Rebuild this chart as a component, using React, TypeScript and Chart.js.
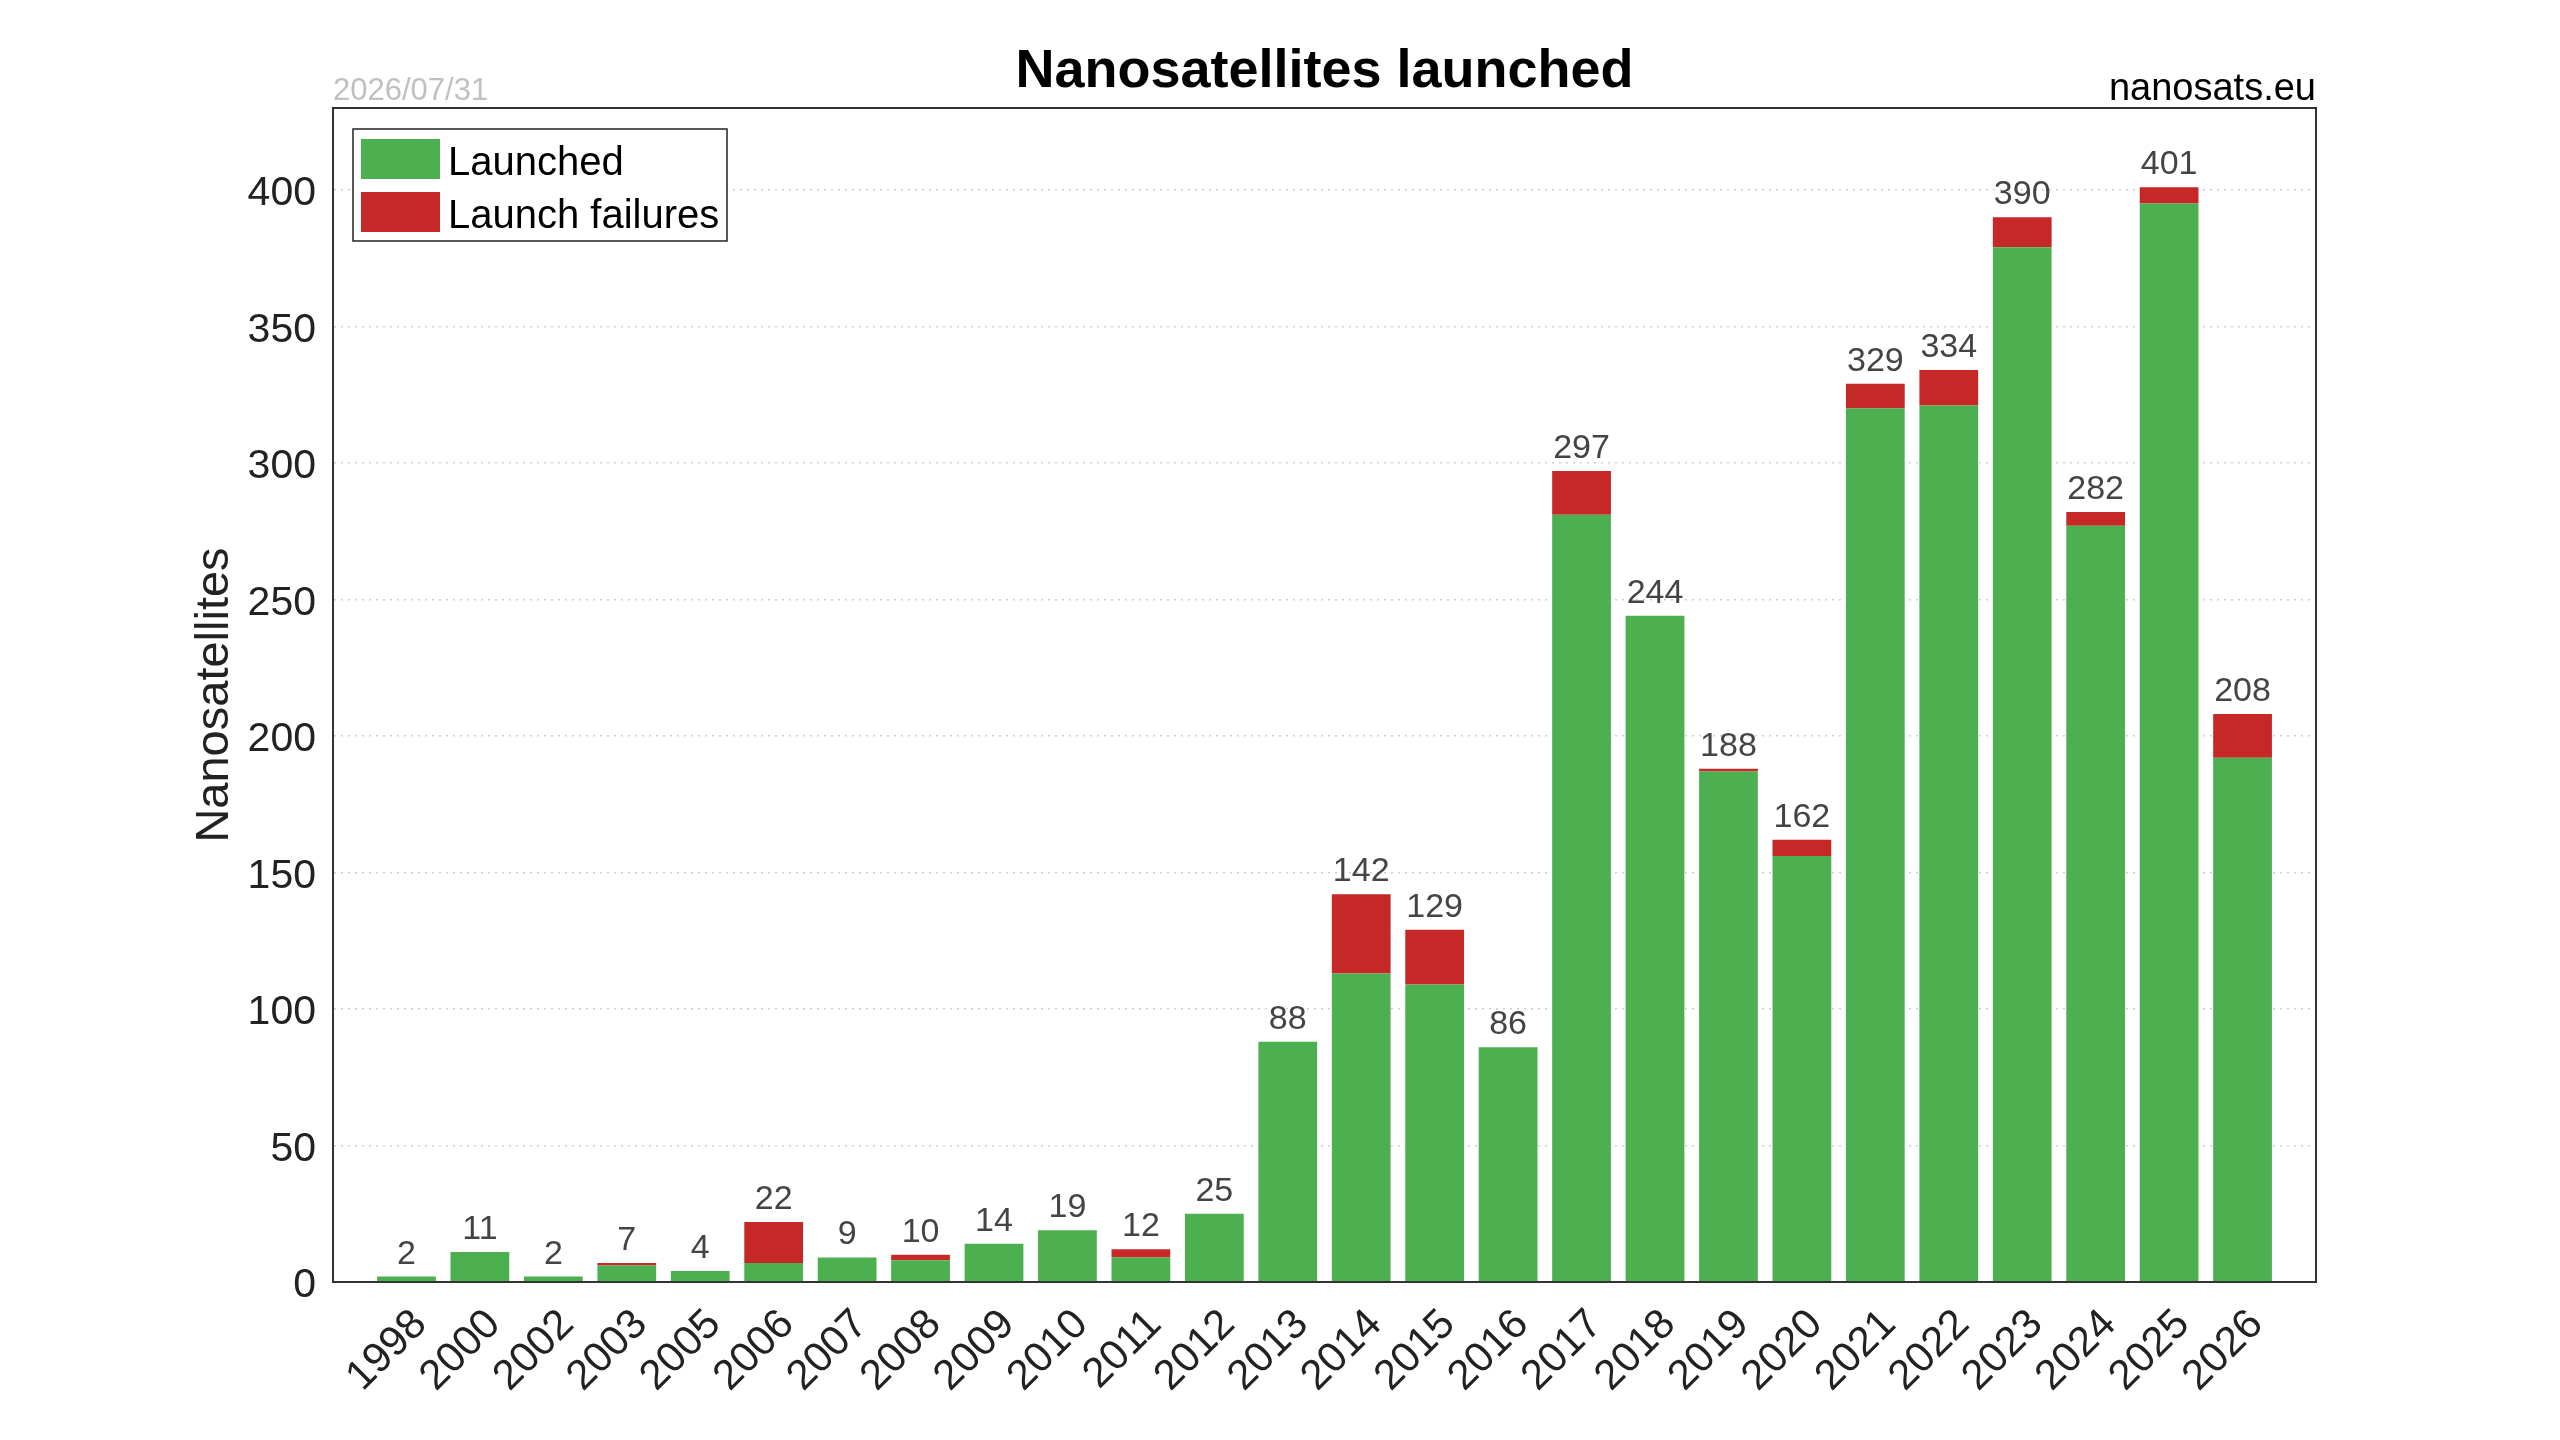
import React, { useEffect, useRef } from "react";
import { Chart, registerables } from "chart.js";

Chart.register(...registerables);

const years = ["1998", "2000", "2002", "2003", "2005", "2006", "2007", "2008", "2009", "2010", "2011", "2012", "2013", "2014", "2015", "2016", "2017", "2018", "2019", "2020", "2021", "2022", "2023", "2024", "2025", "2026"];
const launched = [2, 11, 2, 6, 4, 7, 9, 8, 14, 19, 9, 25, 88, 113, 109, 86, 281, 244, 187, 156, 320, 321, 379, 277, 395, 192];
const failures = [0, 0, 0, 1, 0, 15, 0, 2, 0, 0, 3, 0, 0, 29, 20, 0, 16, 0, 1, 6, 9, 13, 11, 5, 6, 16];
const yTicks = [0, 50, 100, 150, 200, 250, 300, 350, 400];

const FONT = '"Liberation Sans", Arial, Helvetica, sans-serif';
const GREEN = "#4CAF50";
const RED = "#C62828";

const decorPlugin = {
  id: "decor",
  afterDraw(chart: any) {
    const { ctx, chartArea: a, scales } = chart;
    ctx.save();
    // frame
    ctx.strokeStyle = "#333";
    ctx.lineWidth = 2;
    ctx.setLineDash([]);
    ctx.strokeRect(a.left, a.top, a.right - a.left, a.bottom - a.top);

    // totals above bars
    ctx.font = `34px ${FONT}`;
    ctx.fillStyle = "#444";
    ctx.textAlign = "center";
    ctx.textBaseline = "alphabetic";
    years.forEach((_, i) => {
      const total = launched[i] + failures[i];
      const x = scales.x.getPixelForValue(i);
      const y = scales.y.getPixelForValue(total);
      ctx.fillText(String(total), x, y - 13);
    });

    // title
    ctx.font = `bold 54px ${FONT}`;
    ctx.fillStyle = "#000";
    ctx.textAlign = "center";
    ctx.fillText("Nanosatellites launched", (a.left + a.right) / 2, 87);

    // date
    ctx.font = `31px ${FONT}`;
    ctx.fillStyle = "#c0c0c0";
    ctx.textAlign = "left";
    ctx.fillText("2026/07/31", a.left, 100);

    // source
    ctx.font = `38px ${FONT}`;
    ctx.fillStyle = "#000";
    ctx.textAlign = "right";
    ctx.fillText("nanosats.eu", a.right, 100);

    // y title
    ctx.save();
    ctx.translate(228, (a.top + a.bottom) / 2);
    ctx.rotate(-Math.PI / 2);
    ctx.font = `47px ${FONT}`;
    ctx.fillStyle = "#222";
    ctx.textAlign = "center";
    ctx.textBaseline = "alphabetic";
    ctx.fillText("Nanosatellites", 0, 0);
    ctx.restore();

    // legend
    const lx = a.left + 20;
    const ly = a.top + 21;
    const lw = 374;
    const lh = 112;
    ctx.fillStyle = "#fff";
    ctx.fillRect(lx, ly, lw, lh);
    ctx.strokeStyle = "#222";
    ctx.lineWidth = 1.5;
    ctx.strokeRect(lx, ly, lw, lh);
    const items = [
      { label: "Launched", color: GREEN },
      { label: "Launch failures", color: RED },
    ];
    ctx.font = `40px ${FONT}`;
    ctx.textAlign = "left";
    ctx.textBaseline = "alphabetic";
    items.forEach((it, k) => {
      const top = ly + 10 + k * 53;
      ctx.fillStyle = it.color;
      ctx.fillRect(lx + 8, top, 79, 40);
      ctx.fillStyle = "#000";
      ctx.fillText(it.label, lx + 95, top + 36);
    });
    ctx.restore();
  },
};

export default function App() {
  const ref = useRef<HTMLCanvasElement | null>(null);

  useEffect(() => {
    const canvas = ref.current;
    if (!canvas) return;
    Chart.defaults.font.family = FONT;
    const chart = new Chart(canvas, {
      type: "bar",
      data: {
        datasets: [
          {
            label: "Launched",
            data: launched.map((v, i) => ({ x: i, y: v })),
            backgroundColor: GREEN,
            borderWidth: 0,
            barPercentage: 0.8,
            categoryPercentage: 1,
          },
          {
            label: "Launch failures",
            data: failures.map((v, i) => ({ x: i, y: v })),
            backgroundColor: RED,
            borderWidth: 0,
            barPercentage: 0.8,
            categoryPercentage: 1,
          },
        ],
      },
      options: {
        animation: false,
        responsive: false,
        devicePixelRatio: 1,
        layout: { padding: { left: 0, right: 244, top: 108, bottom: 0 } },
        plugins: {
          legend: { display: false },
          tooltip: { enabled: false },
          title: { display: false },
        },
        scales: {
          x: {
            type: "linear",
            stacked: true,
            min: -1,
            max: 26,
            offset: false,
            grid: { display: false, drawTicks: false, offset: false },
            border: { display: true, color: "#333", width: 2 },
            afterBuildTicks: (scale: any) => {
              scale.ticks = years.map((_, i) => ({ value: i }));
            },
            afterFit: (scale: any) => {
              scale.height = 158;
            },
            ticks: {
              autoSkip: false,
              minRotation: 45,
              maxRotation: 45,
              padding: 18,
              labelOffset: 14,
              color: "#222",
              font: { size: 42, family: FONT },
              callback: (v: any) => years[v] ?? "",
            },
          },
          y: {
            type: "linear",
            stacked: true,
            min: 0,
            max: 430,
            afterBuildTicks: (scale: any) => {
              scale.ticks = yTicks.map((v) => ({ value: v }));
            },
            afterFit: (scale: any) => {
              scale.width = 333;
            },
            grid: { color: "#cfcfcf", lineWidth: 1.5, drawTicks: false },
            border: { display: true, color: "#333", width: 2, dash: [2, 5] },
            ticks: {
              padding: 17,
              labelOffset: 4,
              color: "#222",
              font: { size: 41, family: FONT },
            },
          },
        },
      },
      plugins: [decorPlugin],
    } as any);
    return () => chart.destroy();
  }, []);

  return (
    <div style={{ position: "absolute", left: 0, top: 0, width: 2560, height: 1440, background: "#fff" }}>
      <canvas ref={ref} width={2560} height={1440} style={{ display: "block", width: 2560, height: 1440 }} />
    </div>
  );
}
